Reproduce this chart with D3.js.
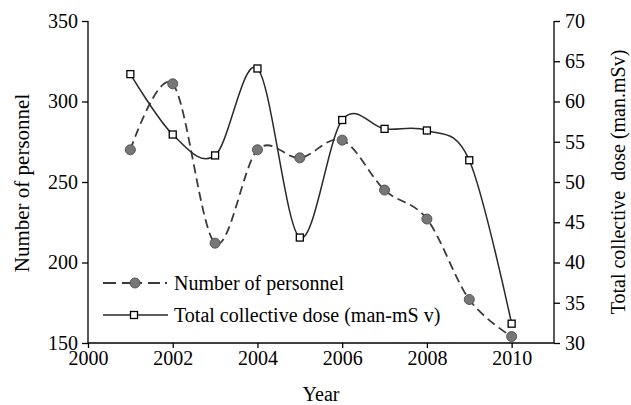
<!DOCTYPE html>
<html><head><meta charset="utf-8">
<script src="https://cdn.jsdelivr.net/npm/d3@7"></script>
<style>
body{margin:0;background:#fff;}
svg{display:block;}
text{font-family:"Liberation Serif","Times New Roman",serif;fill:#000;}
</style></head>
<body>
<svg id="c" width="631" height="405"></svg>
<script>
const years = [2001,2002,2003,2004,2005,2006,2007,2008,2009,2010];
const personnel = [270,311,212,270,265,276,245,227,177,154];
const dose = [63.4,55.9,53.3,64.1,43.1,57.7,56.6,56.4,52.7,32.4];
const xTicks = [2000,2002,2004,2006,2008,2010];
const leftTicks = [150,200,250,300,350];
const rightTicks = [30,35,40,45,50,55,60,65,70];
const seriesNames = ["Number of personnel","Total collective dose (man-mS v)"];

const svg = d3.select("#c");
const x = d3.scaleLinear().domain([2000,2011]).range([88,554]);
const yL = d3.scaleLinear().domain([150,350]).range([343,21]);
const yR = d3.scaleLinear().domain([30,70]).range([343,21]);

const fs = 20;
// X axis
const gx = svg.append("g").attr("transform","translate(0,343)")
  .call(d3.axisBottom(x).tickValues(xTicks).tickFormat(d3.format("d")).tickSize(5).tickSizeOuter(0));
gx.select(".domain").attr("d","M88,0H554").attr("stroke","#000").attr("stroke-width",1.3);
gx.selectAll(".tick line").attr("stroke","#000").attr("stroke-width",1.3);
gx.selectAll(".tick text").attr("font-size",fs).attr("dy","0.9em").attr("y",4);

// Left axis
const gl = svg.append("g").attr("transform","translate(88,0)")
  .call(d3.axisLeft(yL).tickValues(leftTicks).tickSize(6).tickSizeOuter(0));
gl.select(".domain").attr("d","M0,21V343").attr("stroke","#000").attr("stroke-width",1.3);
gl.selectAll(".tick line").attr("stroke","#000").attr("stroke-width",1.3);
gl.selectAll(".tick text").attr("font-size",fs).attr("x",-10);

// Right axis
const gr = svg.append("g").attr("transform","translate(554,0)")
  .call(d3.axisRight(yR).tickValues(rightTicks).tickSize(6).tickSizeOuter(0));
gr.select(".domain").attr("d","M0,21V343").attr("stroke","#000").attr("stroke-width",1.3);
gr.selectAll(".tick line").attr("stroke","#000").attr("stroke-width",1.3);
gr.selectAll(".tick text").attr("font-size",fs).attr("x",11);

// Titles
svg.append("text").attr("transform","translate(29,183) rotate(-90)")
  .attr("text-anchor","middle").attr("font-size",21).text("Number of personnel");
svg.append("text").attr("transform","translate(625,182) rotate(-90)")
  .attr("text-anchor","middle").attr("font-size",20).style("white-space","pre")
  .text("Total collective  dose (man.mSv)");
svg.append("text").attr("x",321).attr("y",401).attr("text-anchor","middle")
  .attr("font-size",20).text("Year");

const curve = d3.curveCardinal.tension(0);
const lineP = d3.line().x((d,i)=>x(years[i])).y(d=>yL(d)).curve(curve);
const lineD = d3.line().x((d,i)=>x(years[i])).y(d=>yR(d)).curve(curve);

svg.append("path").attr("d",lineP(personnel)).attr("fill","none")
  .attr("stroke","#3a3a3a").attr("stroke-width",1.8).attr("stroke-dasharray","9,5");
svg.append("path").attr("d",lineD(dose)).attr("fill","none")
  .attr("stroke","#2a2a2a").attr("stroke-width",1.5);

svg.selectAll("circle.p").data(personnel).enter().append("circle")
  .attr("cx",(d,i)=>x(years[i])).attr("cy",d=>yL(d)).attr("r",5)
  .attr("fill","#777").attr("stroke","#555").attr("stroke-width",1);
svg.selectAll("rect.d").data(dose).enter().append("rect")
  .attr("x",(d,i)=>x(years[i])-3.5).attr("y",d=>yR(d)-3.5).attr("width",7).attr("height",7)
  .attr("fill","#fff").attr("stroke","#000").attr("stroke-width",1.3);

// Legend
const lg = svg.append("g");
lg.append("line").attr("x1",103).attr("x2",168).attr("y1",283).attr("y2",283)
  .attr("stroke","#3a3a3a").attr("stroke-width",1.8).attr("stroke-dasharray","13,6,20,6,12,5,2,10");
lg.append("circle").attr("cx",135).attr("cy",283).attr("r",5).attr("fill","#777").attr("stroke","#555");
lg.append("line").attr("x1",103).attr("x2",168).attr("y1",315).attr("y2",315)
  .attr("stroke","#2a2a2a").attr("stroke-width",1.5);
lg.append("rect").attr("x",130.5).attr("y",311.5).attr("width",7).attr("height",7)
  .attr("fill","#fff").attr("stroke","#000").attr("stroke-width",1.3);
lg.selectAll("text.l").data(seriesNames).enter().append("text")
  .attr("x",174).attr("y",(d,i)=>283+i*32).attr("dy","0.35em").attr("font-size",20)
  .text(d=>d);
</script>
</body></html>
